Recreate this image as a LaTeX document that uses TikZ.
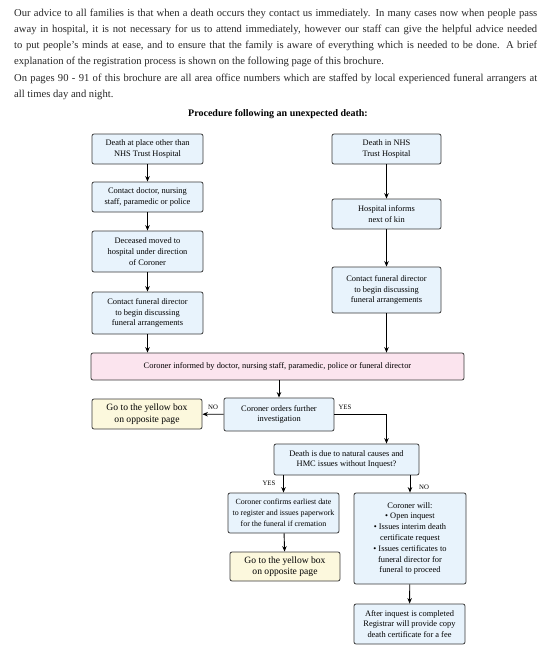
\documentclass[tikz,border=0pt]{standalone}
\usepackage{fontspec}
\setmainfont{Liberation Serif}
\usetikzlibrary{arrows.meta,calc}
\definecolor{boxblue}{HTML}{E8F3FC}
\definecolor{boxpink}{HTML}{FBE4EE}
\definecolor{boxyellow}{HTML}{FCF8DD}
\definecolor{edge}{HTML}{3A3A3A}
\definecolor{bodytext}{HTML}{262626}
\begin{document}
\begin{tikzpicture}[x=1pt,y=-1pt,
  box/.style={draw=edge,line width=0.8pt,rounded corners=2pt,fill=boxblue,align=center,
    font=\fontsize{8.4}{10.8}\selectfont,inner sep=1pt},
  pinkbox/.style={box,fill=boxpink},
  yelbox/.style={box,fill=boxyellow,font=\fontsize{9.6}{11.5}\selectfont},
  arr/.style={-{Stealth[length=5.5pt,width=4.5pt]},line width=0.9pt,black},
  lab/.style={font=\fontsize{6.8}{8}\selectfont,inner sep=0pt}]
\useasboundingbox (0,0) rectangle (547,661);
% body text
\node[anchor=north west,inner sep=0pt,text width=523pt,align=justify,text=bodytext,
  font=\fontsize{10.6}{16}\selectfont] (para) at (14,9) {%
Our advice to all families is that when a death occurs they contact us immediately. In many cases now when people pass\linebreak
away in hospital, it is not necessary for us to attend immediately, however our staff can give the helpful advice needed\linebreak
to put people's minds at ease, and to ensure that the family is aware of everything which is needed to be done. A brief\linebreak
explanation of the registration process is shown on the following page of this brochure.\par
\vspace{1pt}
On pages 90 - 91 of this brochure are all area office numbers which are staffed by local experienced funeral arrangers at\linebreak
all times day and night.};
\node[font=\bfseries\fontsize{10}{12}\selectfont] (title) at (278,114) {Procedure following an unexpected death:};
% left column
\node[box,minimum width=111pt,minimum height=30pt] (l1) at (147.5,149) {Death at place other than\\NHS Trust Hospital};
\node[box,minimum width=111pt,minimum height=30pt] (l2) at (147.5,197) {Contact doctor, nursing\\staff, paramedic or police};
\node[box,minimum width=111pt,minimum height=41pt] (l3) at (147.5,251.5) {Deceased moved to\\hospital under direction\\of Coroner};
\node[box,minimum width=111pt,minimum height=42pt] (l4) at (147.5,313) {Contact funeral director\\to begin discussing\\funeral arrangements};
% right column
\node[box,minimum width=109pt,minimum height=30pt] (r1) at (386.5,149) {Death in NHS\\Trust Hospital};
\node[box,minimum width=109pt,minimum height=30pt] (r2) at (386.5,214) {Hospital informs\\next of kin};
\node[box,minimum width=109pt,minimum height=46pt] (r3) at (386.5,290) {Contact funeral director\\to begin discussing\\funeral arrangements};
% coroner
\node[pinkbox,minimum width=373pt,minimum height=27pt] (pk) at (277.5,366.5) {Coroner informed by doctor, nursing staff, paramedic, police or funeral director};
\node[yelbox,minimum width=110pt,minimum height=30pt] (y1) at (147,414) {Go to the yellow box\\on opposite page};
\node[box,minimum width=110pt,minimum height=33pt] (co) at (279,414.5) {Coroner orders further\\investigation};
\node[box,minimum width=145pt,minimum height=31pt] (dn) at (346.5,459.5) {Death is due to natural causes and\\HMC issues without Inquest?};
\node[box,minimum width=111pt,minimum height=40pt,font=\fontsize{7.9}{10.8}\selectfont] (cc) at (283.5,513) {Coroner confirms earliest date\\to register and issues paperwork\\for the funeral if cremation};
\node[yelbox,minimum width=110pt,minimum height=29pt] (y2) at (285,566.5) {Go to the yellow box\\on opposite page};
\node[box,minimum width=112pt,minimum height=91pt] (cw) at (410,538.5) {Coroner will:\\• Open inquest\\• Issues interim death\\certificate request\\• Issues certificates to\\funeral director for\\funeral to proceed};
\node[box,minimum width=111pt,minimum height=40pt] (ai) at (409.5,624) {After inquest is completed\\Registrar will provide copy\\death certificate for a fee};
% connectors
\draw[arr] (l1) -- (l2);
\draw[arr] (l2) -- (l3);
\draw[arr] (l3) -- (l4);
\draw[arr] (l4) -- (l4 |- pk.north);
\draw[arr] (r1) -- (r2);
\draw[arr] (r2) -- (r3);
\draw[arr] (r3) -- (r3 |- pk.north);
\draw[arr] (co |- pk.south) -- (co);
\draw[arr] (co) -- (y1);
\coordinate (dnin) at ([xshift=40pt]dn.north);
\draw[arr] (co.east) -| (dnin);
\draw[arr] (cc.north |- dn.south) -- (cc.north);
\draw[arr] (cw.north |- dn.south) -- (cw.north);
\draw[arr] (cc) -- (y2);
\draw[arr] (cw) -- (ai);
% labels
\node[lab] (no1) at (213,407) {NO};
\node[lab] (yes1) at (345,407) {YES};
\node[lab] (yes2) at (269,483) {YES};
\node[lab] (no2) at (424,487) {NO};
\end{tikzpicture}
\end{document}
